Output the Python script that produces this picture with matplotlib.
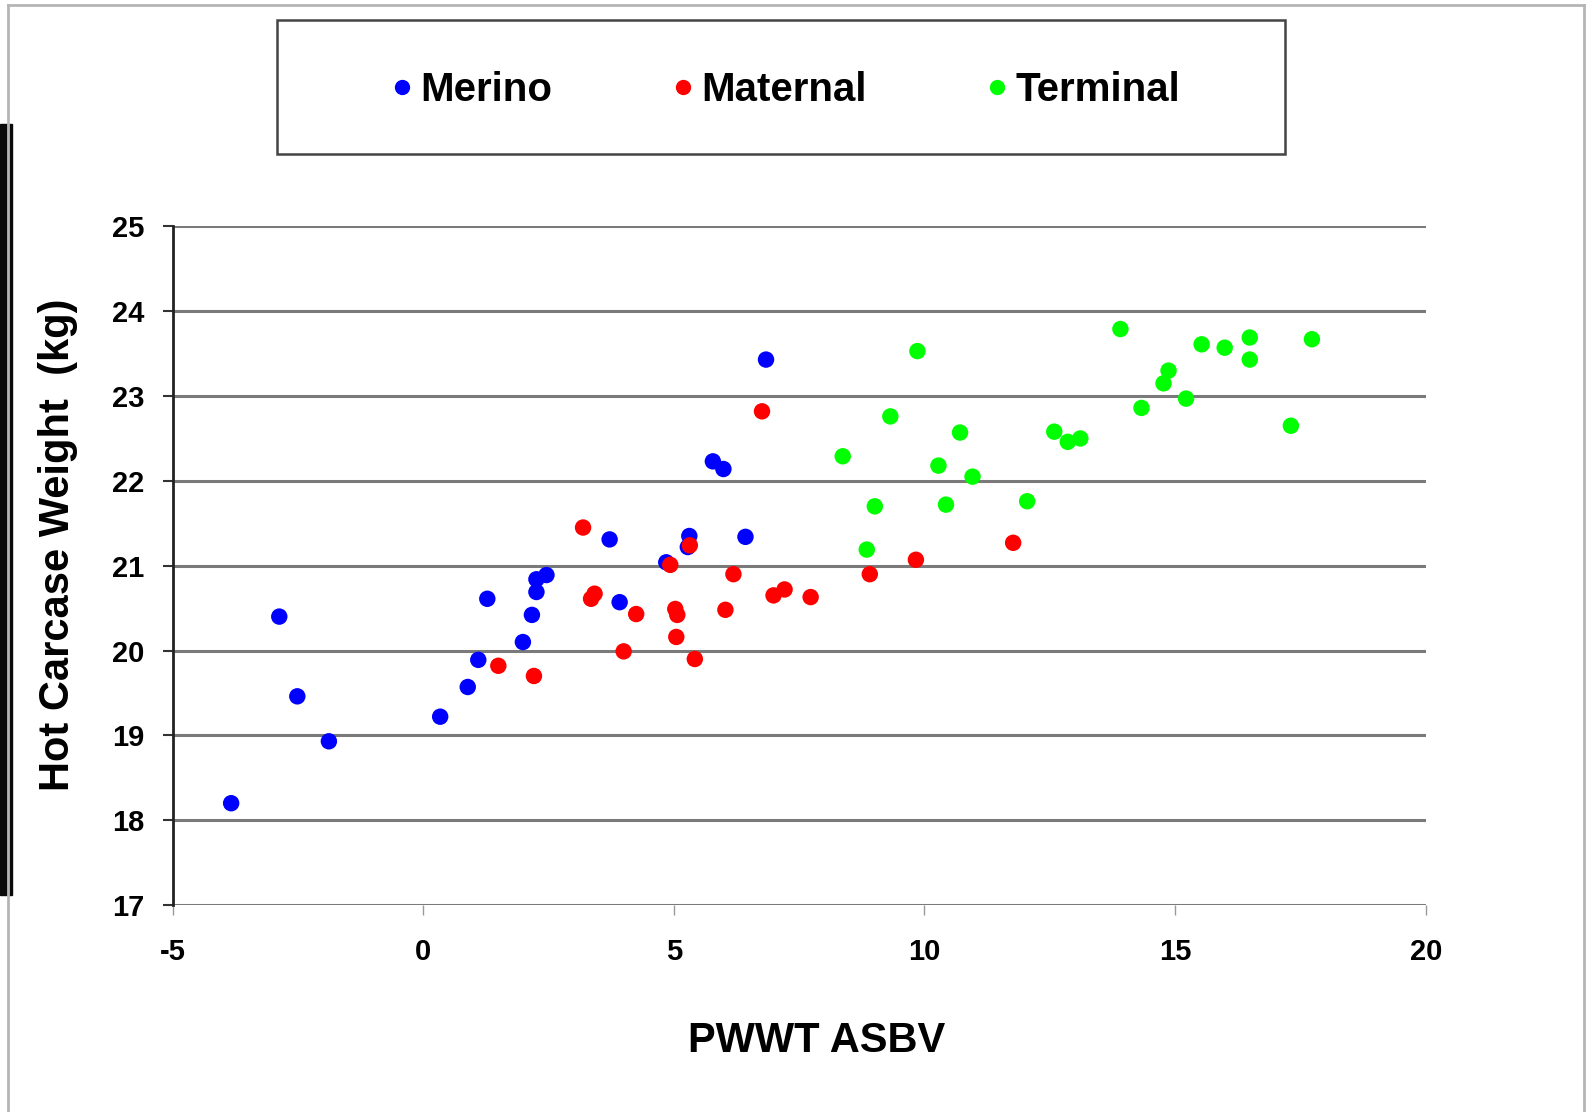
import matplotlib.pyplot as plt
from matplotlib.patches import Rectangle
from matplotlib.lines import Line2D

plt.rcParams['font.family'] = ['Liberation Sans', 'DejaVu Sans']
plt.rcParams['font.weight'] = 'bold'

# PWWT ASBV (x) and hot carcase weight (y) for each sire type
merino_x = [6.84, 5.78, 5.99, 3.72, 5.31, 5.28, 6.43, 4.85, 2.26, 2.46, 2.26,
            1.28, 3.92, 2.17, 1.99, 1.10, 0.89, 0.34, -2.87, -2.51, -1.88, -3.83]
merino_y = [23.43, 22.23, 22.14, 21.31, 21.35, 21.22, 21.34, 21.04, 20.84, 20.89, 20.69,
            20.61, 20.57, 20.42, 20.10, 19.89, 19.57, 19.22, 20.40, 19.46, 18.93, 18.20]

maternal_x = [6.76, 3.19, 5.32, 4.93, 6.19, 3.42, 3.35, 4.25, 5.03, 5.07, 6.03,
              5.05, 4.00, 5.42, 1.50, 2.21, 6.99, 7.21, 7.73, 11.77, 9.83, 8.91]
maternal_y = [22.82, 21.45, 21.24, 21.01, 20.90, 20.67, 20.61, 20.43, 20.49, 20.42, 20.48,
              20.16, 19.99, 19.90, 19.82, 19.70, 20.65, 20.72, 20.63, 21.27, 21.07, 20.90]

terminal_x = [13.91, 9.86, 15.53, 15.99, 16.49, 16.49, 17.73, 14.87, 14.77, 15.22, 14.33, 17.31,
              9.32, 10.71, 12.59, 12.86, 13.11, 8.37, 10.28, 10.96, 9.01, 10.43, 12.05, 8.85]
terminal_y = [23.79, 23.53, 23.61, 23.57, 23.69, 23.43, 23.67, 23.30, 23.15, 22.97, 22.86, 22.65,
              22.76, 22.57, 22.58, 22.46, 22.50, 22.29, 22.18, 22.05, 21.70, 21.72, 21.76, 21.19]

series_names = ['Merino', 'Maternal', 'Terminal']
series_colors = ['#0000ff', '#ff0000', '#00ff00']

x_ticks = [-5, 0, 5, 10, 15, 20]
y_ticks = [17, 18, 19, 20, 21, 22, 23, 24, 25]

fig = plt.figure(figsize=(15.92, 11.12), dpi=100)
ax = fig.add_axes([172.5 / 1592, 1 - 905 / 1112, (1425.7 - 172.5) / 1592, (905 - 226.4) / 1112])

data = [(merino_x, merino_y), (maternal_x, maternal_y), (terminal_x, terminal_y)]
for (xs, ys), name, col in zip(data, series_names, series_colors):
    ax.scatter(xs, ys, s=140, color=col, edgecolors='none', label=name, zorder=3)

ax.set_xlim(-5, 20)
ax.set_ylim(17, 25)
ax.set_xticks(x_ticks)
ax.set_yticks(y_ticks)
ax.set_xticklabels([str(t) for t in x_ticks], fontsize=21, fontweight='bold')
ax.set_yticklabels([str(t) for t in y_ticks], fontsize=21, fontweight='bold')
ax.tick_params(axis='x', direction='out', length=7, width=1, color='#999999', pad=17)
ax.tick_params(axis='y', direction='out', length=7, width=1.5, color='#333333', pad=13)

for t in y_ticks:
    ax.axhline(t, color='#7a7a7a', lw=2.2, zorder=1)
for s in ['top', 'right', 'bottom']:
    ax.spines[s].set_visible(False)
ax.spines['left'].set_color('#222222')
ax.spines['left'].set_linewidth(2)

fig.text(58 / 1592, 1 - 545 / 1112, 'Hot Carcase Weight  (kg)', rotation=90,
         ha='center', va='center', fontsize=30, fontweight='bold')
fig.text(817 / 1592, 1 - 1041 / 1112, 'PWWT ASBV', ha='center', va='center',
         fontsize=30, fontweight='bold')

# legend box at top
fig.patches.append(Rectangle((277 / 1592, 1 - 154 / 1112), (1285 - 277) / 1592, (154 - 20) / 1112,
                             transform=fig.transFigure, fill=False, edgecolor='#444444', lw=1.8))
handles = [Line2D([], [], marker='o', ls='none', color=c, markersize=10) for c in series_colors]
fig.legend(handles, series_names, loc='center', bbox_to_anchor=(786 / 1592, 1 - 90 / 1112),
           ncol=3, frameon=False, prop={'size': 29, 'weight': 'bold'},
           handlelength=0.5, handletextpad=0.2, columnspacing=3.0)

# outer chart frame and dark strip on the left edge
frame = dict(transform=fig.transFigure, color='#b5b5b5', lw=2)
fig.add_artist(Line2D([8 / 1592, 8 / 1592], [0, 1 - 5 / 1112], **frame))
fig.add_artist(Line2D([8 / 1592, 1584 / 1592], [1 - 5 / 1112, 1 - 5 / 1112], **frame))
fig.add_artist(Line2D([1584 / 1592, 1584 / 1592], [0, 1 - 5 / 1112], **frame))
fig.patches.append(Rectangle((0, 1 - 895 / 1112), 11.5 / 1592, (895 - 124) / 1112,
                             transform=fig.transFigure, color='#0a0a0a'))

fig.savefig('out.png', dpi=100)
